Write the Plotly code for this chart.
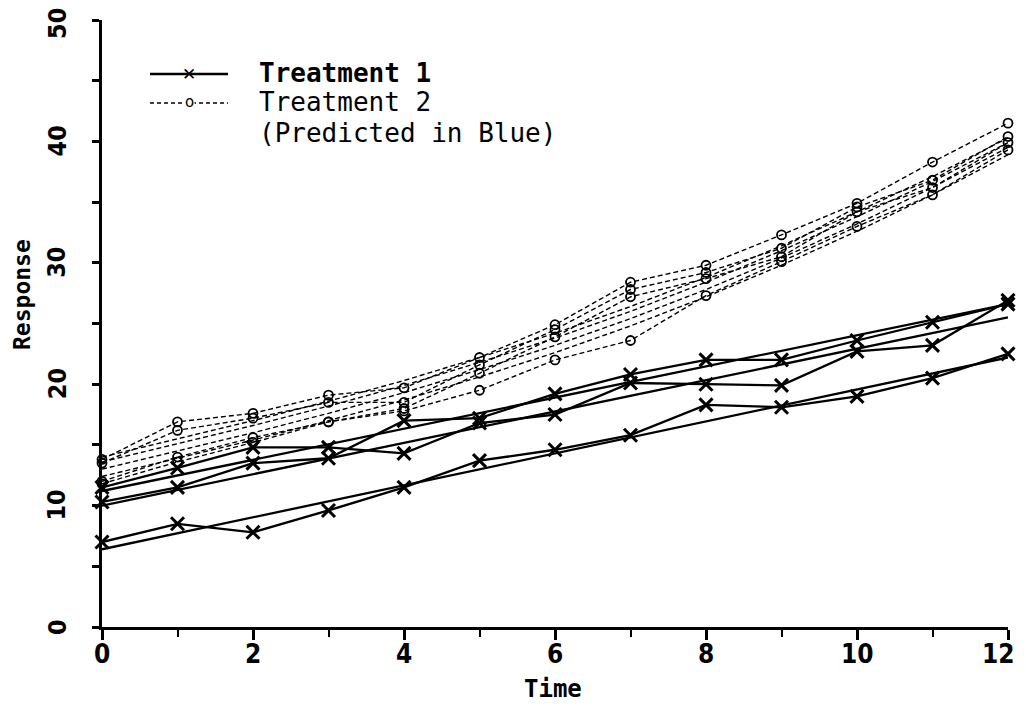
import plotly.graph_objects as go

# ---------------- data ----------------
time = list(range(13))

# Treatment 1 observed responses (x markers, solid lines)
t1_subject_a = [7.0, 8.5, 7.8, 9.6, 11.5, 13.7, 14.6, 15.8, 18.3, 18.1, 19.0, 20.5, 22.5]
t1_subject_b = [10.3, 11.5, 13.5, 13.9, 17.0, 17.2, 19.2, 20.8, 22.0, 22.0, 23.6, 25.1, 26.6]
t1_subject_c = [11.5, 13.1, 14.8, 14.8, 14.3, 16.8, 17.5, 20.1, 20.0, 19.9, 22.7, 23.2, 26.9]

# Treatment 1 predicted (straight lines, start/end)
t1_pred_time = [0, 12]
t1_pred_a = [6.4, 22.2]
t1_pred_b = [10.0, 25.5]
t1_pred_c = [11.2, 26.6]

# Treatment 2 observed responses (o markers, dashed lines)
t2_subject_a = [13.8, 16.9, 17.6, 19.1, 19.7, 22.2, 24.9, 28.4, 29.8, 32.3, 34.9, 38.3, 41.5]
t2_subject_b = [13.5, 16.2, 17.2, 18.5, 18.5, 21.6, 24.5, 27.8, 29.2, 31.2, 34.6, 36.8, 40.4]
t2_subject_c = [12.0, 14.0, 15.6, 16.9, 18.0, 20.9, 23.9, 27.2, 28.7, 30.5, 34.2, 36.2, 39.9]
t2_subject_d = [11.8, 13.6, 15.2, 16.9, 17.8, 19.5, 22.0, 23.6, 27.3, 30.1, 33.0, 35.6, 39.3]

# Treatment 2 predicted curves (dashed, no markers)
t2_pred_a = [14.0, 15.5, 17.0, 18.6, 20.3, 22.2, 24.2, 26.4, 28.8, 31.4, 34.2, 37.1, 40.3]
t2_pred_b = [13.6, 15.1, 16.6, 18.2, 19.9, 21.8, 23.8, 26.0, 28.4, 31.0, 33.8, 36.7, 39.9]
t2_pred_c = [13.0, 14.5, 16.0, 17.6, 19.3, 21.2, 23.2, 25.4, 27.8, 30.4, 33.2, 36.2, 39.5]
t2_pred_d = [12.4, 13.9, 15.4, 17.0, 18.7, 20.6, 22.6, 24.8, 27.2, 29.8, 32.6, 35.6, 38.9]

x_ticks = [0, 2, 4, 6, 8, 10, 12]
y_ticks = [0, 10, 20, 30, 40, 50]

# ---------------- figure ----------------
TICKFONT = "Liberation Sans Narrow, DejaVu Sans Condensed, sans-serif"
MONO = "DejaVu Sans Mono, Liberation Mono, monospace"
fig = go.Figure()

for ys in [t1_pred_a, t1_pred_b, t1_pred_c]:
    fig.add_trace(go.Scatter(x=t1_pred_time, y=ys, mode="lines",
                             line=dict(color="black", width=2.3), showlegend=False,
                             cliponaxis=False))

for ys in [t1_subject_a, t1_subject_b, t1_subject_c]:
    fig.add_trace(go.Scatter(x=time, y=ys, mode="lines+markers",
                             line=dict(color="black", width=2.3),
                             marker=dict(symbol="x-thin-open", size=13,
                                         line=dict(color="black", width=3)),
                             showlegend=False, cliponaxis=False))

for ys in [t2_pred_a, t2_pred_b, t2_pred_c, t2_pred_d]:
    fig.add_trace(go.Scatter(x=time, y=ys, mode="lines",
                             line=dict(color="black", width=1.4, dash="5px,3px"),
                             showlegend=False, cliponaxis=False))

for ys in [t2_subject_a, t2_subject_b, t2_subject_c, t2_subject_d]:
    fig.add_trace(go.Scatter(x=time, y=ys, mode="lines+markers",
                             line=dict(color="black", width=1.4, dash="5px,3px"),
                             marker=dict(symbol="circle-open", size=9,
                                         line=dict(color="black", width=1.8)),
                             showlegend=False, cliponaxis=False))

# ---- helpers: page pixel -> paper coords (page has an 8px body margin) ----
def px_x(p):
    return (p - 102) / 906.0

def px_y(p):
    return (627 - p) / 607.0

# ---- hand-drawn legend ----
fig.add_shape(type="line", xref="paper", yref="paper",
              x0=px_x(150), x1=px_x(228), y0=px_y(74), y1=px_y(74),
              line=dict(color="black", width=2.3))
fig.add_shape(type="line", xref="paper", yref="paper",
              x0=px_x(150), x1=px_x(228), y0=px_y(103), y1=px_y(103),
              line=dict(color="black", width=1.4, dash="4px,3px"))
fig.add_annotation(xref="paper", yref="paper", x=px_x(189), y=px_y(74),
                   text="<b>✕</b>", showarrow=False, xanchor="center", yanchor="middle",
                   font=dict(family="DejaVu Sans", size=17, color="black"))
fig.add_annotation(xref="paper", yref="paper", x=px_x(189), y=px_y(102),
                   text="o", showarrow=False, xanchor="center", yanchor="middle",
                   font=dict(family="DejaVu Sans", size=15, color="black"),
                   bgcolor="white", borderpad=0)
legend_rows = [("<b>Treatment 1</b>", 73), ("Treatment 2", 102), ("(Predicted in Blue)", 133)]
for txt, ypx in legend_rows:
    fig.add_annotation(xref="paper", yref="paper", x=px_x(258), y=px_y(ypx),
                       xanchor="left", yanchor="middle", text=txt, showarrow=False,
                       borderpad=0,
                       font=dict(family=MONO, size=26, color="black"))

# y tick labels (rotated, as in the original plotter output)
for v in y_ticks:
    fig.add_annotation(xref="paper", yref="y", x=px_x(57), y=v,
                       text=f"<b>{v}</b>", textangle=-90, showarrow=False,
                       xanchor="center", yanchor="middle",
                       yshift=(-4 if v == y_ticks[-1] else 0),
                       font=dict(family=TICKFONT, size=25, color="black"))

# x tick labels
for v in x_ticks:
    last = (v == x_ticks[-1])
    fig.add_annotation(xref="x", yref="paper", x=v, y=px_y(654),
                       text=f"<b>{v}</b>", showarrow=False,
                       xanchor=("right" if last else "center"), yanchor="middle",
                       xshift=(9 if last else 0),
                       font=dict(family=TICKFONT, size=26, color="black"))

# axis titles
fig.add_annotation(xref="paper", yref="paper", x=px_x(22), y=px_y(295),
                   text="<b>Response</b>", textangle=-90, showarrow=False,
                   xanchor="center", yanchor="middle",
                   font=dict(family=MONO, size=23, color="black"))
fig.add_annotation(xref="paper", yref="paper", x=px_x(553), y=px_y(689),
                   text="<b>Time</b>", showarrow=False, borderpad=0,
                   xanchor="center", yanchor="middle",
                   font=dict(family=MONO, size=24, color="black"))

fig.update_layout(
    width=1010, height=697,
    margin=dict(l=94, r=10, t=12, b=78, autoexpand=False),
    paper_bgcolor="white", plot_bgcolor="white",
    showlegend=False,
    xaxis=dict(range=[0, 12], tickmode="array", tickvals=x_ticks,
               showticklabels=False, automargin=False,
               showgrid=False, zeroline=False, showline=True,
               linecolor="black", linewidth=2.5,
               ticks="outside", ticklen=10, tickwidth=2.5, tickcolor="black",
               minor=dict(dtick=1, ticks="outside", ticklen=7, tickwidth=2,
                          tickcolor="black", showgrid=False)),
    yaxis=dict(range=[0, 50], tickmode="array", tickvals=y_ticks,
               showticklabels=False, automargin=False,
               showgrid=False, zeroline=False, showline=True,
               linecolor="black", linewidth=2.5,
               ticks="outside", ticklen=7, tickwidth=2.5, tickcolor="black",
               minor=dict(dtick=5, ticks="outside", ticklen=7, tickwidth=2.5,
                          tickcolor="black", showgrid=False)),
)

fig.write_html("out.html")
